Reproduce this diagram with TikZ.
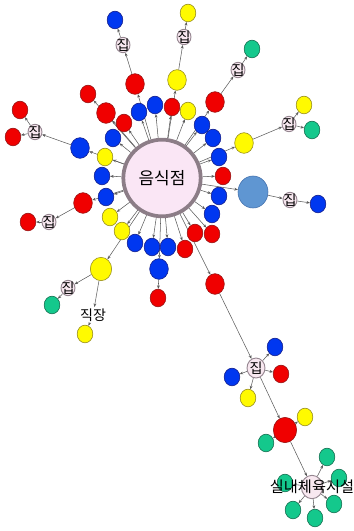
\documentclass[tikz,border=0pt]{standalone}
\usepackage{fontspec}
\setmainfont{Noto Sans CJK KR}
\usetikzlibrary{shapes.geometric, arrows.meta, backgrounds}

\definecolor{ndred}{RGB}{240,0,0}
\definecolor{ndredd}{RGB}{150,20,20}
\definecolor{ndblue}{RGB}{0,55,240}
\definecolor{ndblued}{RGB}{20,30,140}
\definecolor{ndyel}{RGB}{255,250,0}
\definecolor{ndyeld}{RGB}{150,140,30}
\definecolor{ndgrn}{RGB}{20,200,140}
\definecolor{ndgrnd}{RGB}{20,110,80}
\definecolor{ndsky}{RGB}{95,150,210}
\definecolor{ndskyd}{RGB}{70,115,175}
\definecolor{plpink}{RGB}{248,232,240}
\definecolor{plgray}{RGB}{150,135,145}
\definecolor{hbpink}{RGB}{250,230,245}
\definecolor{hbgray}{RGB}{140,125,135}
\definecolor{edgray}{RGB}{90,90,90}

\begin{document}
\begin{tikzpicture}[x=0.3mm, y=-0.3mm,
		every label/.style={font=\fontsize{12}{12}\selectfont, inner sep=0pt, text=black}]
		\tikzset{nd/.style={ellipse, draw, line width=0.5pt, minimum width=4.7mm, minimum height=5.3mm, inner sep=0pt}};
		\tikzset{lg/.style={minimum width=5.6mm, minimum height=6.2mm}};
		\tikzset{rd/.style={nd, fill=ndred, draw=ndredd}};
		\tikzset{bl/.style={nd, fill=ndblue, draw=ndblued}};
		\tikzset{yl/.style={nd, fill=ndyel, draw=ndyeld}};
		\tikzset{gn/.style={nd, fill=ndgrn, draw=ndgrnd}};
		\tikzset{pl/.style={ellipse, draw=plgray, fill=plpink, line width=0.8pt, minimum width=4.2mm, minimum height=4.6mm, inner sep=0pt}};
		\tikzset{ed/.style={draw=edgray, line width=0.45pt, -{Stealth[length=3pt, width=2.4pt]}}};

		\useasboundingbox (0,0) rectangle (353,531);

		\node[ellipse, draw=hbgray, fill=hbpink, line width=3.2pt, minimum width=19.8mm, minimum height=23mm, font=\fontsize{14.5}{14.5}\selectfont] (h) at (162,178) {음식점};

		% around the hub
		\node[rd] (r1) at (88,94) {};
		\node[rd, lg] (r2) at (135,84) {};
		\node[yl, lg] (y1) at (177,80) {};
		\node[rd, lg] (r3) at (215,102) {};
		\node[rd, lg] (r4) at (106,113) {};
		\node[bl] (b1) at (139,112) {};
		\node[bl] (b2) at (155,105) {};
		\node[rd] (r5) at (172,107) {};
		\node[yl] (y2) at (188,111) {};
		\node[rd] (r6) at (124,123) {};
		\node[bl] (b3) at (202,125) {};
		\node[bl] (b4) at (113,138) {};
		\node[bl] (b5) at (213,138) {};
		\node[yl, lg] (y3) at (244,143) {};
		\node[bl, lg] (b6) at (80,148) {};
		\node[yl] (y4) at (105,157) {};
		\node[bl] (b7) at (219,157) {};
		\node[bl] (b8) at (102,176) {};
		\node[rd] (r7) at (223,176) {};
		\node[ellipse, draw=ndskyd, fill=ndsky, line width=0.5pt, minimum width=9mm, minimum height=9.6mm] (bb) at (253,192) {};
		\node[bl] (b9) at (106,197) {};
		\node[bl] (b10) at (219,196) {};
		\node[rd, lg] (r8) at (83,203) {};
		\node[yl] (y5) at (110,217) {};
		\node[bl] (b11) at (212,214) {};
		\node[yl] (y6) at (122,231) {};
		\node[rd] (r9) at (195,233) {};
		\node[rd] (r10) at (212,234) {};
		\node[bl] (b12) at (135,243) {};
		\node[bl] (b13) at (152,247) {};
		\node[bl] (b14) at (168,247) {};
		\node[rd] (r11) at (185,249) {};
		\node[bl, lg] (b15) at (159,269) {};
		\node[yl, minimum width=6.4mm, minimum height=7mm] (y7) at (101,269) {};
		\node[rd, lg] (r13) at (215,284) {};

		% further out
		\node[pl, label=center:집] (j1) at (123,45) {};
		\node[bl] (b16) at (115,20) {};
		\node[pl, label=center:집] (j2) at (184,37) {};
		\node[yl] (y8) at (188,13) {};
		\node[pl, label=center:집] (j3) at (238,70) {};
		\node[gn] (g1) at (252,49) {};
		\node[pl, label=center:집] (j4) at (289,124) {};
		\node[yl] (y9) at (304,105) {};
		\node[gn] (g2) at (312,130) {};
		\node[pl, label=center:집] (j5) at (290,200) {};
		\node[bl] (b17) at (318,204) {};
		\node[pl, label=center:집] (j6) at (35,132) {};
		\node[rd] (r14) at (20,110) {};
		\node[rd] (r15) at (13,137) {};
		\node[pl, label=center:집] (j7) at (49,222) {};
		\node[rd] (r16) at (28,222) {};
		\node[pl, label=center:집] (j8) at (68,288) {};
		\node[gn] (g3) at (52,305) {};
		\node[pl, draw=none, fill=none, label=center:직장] (jc) at (93,315) {};
		\node[yl] (y10) at (85,334) {};
		\node[rd] (r12) at (158,298) {};

		\node[pl, minimum width=5.4mm, minimum height=6mm, label=center:집] (j9) at (256,368) {};
		\node[bl] (b18) at (275,347) {};
		\node[bl] (b19) at (232,377) {};
		\node[rd] (r17) at (281,374) {};
		\node[yl] (y11) at (248,398) {};
		\node[rd, minimum width=7mm, minimum height=7.6mm] (r18) at (285,430) {};
		\node[yl] (y12) at (305,417) {};
		\node[gn] (g4) at (266,443) {};
		\node[gn] (g5) at (285,483) {};
		\node[gn] (g6) at (327,457) {};
		\node[gn] (g7) at (339,478) {};
		\node[gn] (g8) at (334,504) {};
		\node[gn] (g9) at (315,518) {};
		\node[gn] (g10) at (293,510) {};
		\node[pl, minimum width=6.4mm, minimum height=7mm, label={[font=\fontsize{13}{13}\selectfont]center:실내체육시설}] (sp) at (312,487) {};

		\begin{scope}[on background layer]
		\draw[ed] (h) to (r1);
		\draw[ed] (h) to (r2);
		\draw[ed] (h) to (y1);
		\draw[ed] (h) to (r3);
		\draw[ed] (h) to (r4);
		\draw[ed] (h) to (b1);
		\draw[ed] (h) to (b2);
		\draw[ed] (h) to (r5);
		\draw[ed] (h) to (y2);
		\draw[ed] (h) to (r6);
		\draw[ed] (h) to (b3);
		\draw[ed] (h) to (b4);
		\draw[ed] (h) to (b5);
		\draw[ed] (h) to (y3);
		\draw[ed] (h) to (b6);
		\draw[ed] (h) to (y4);
		\draw[ed] (h) to (b7);
		\draw[ed] (h) to (b8);
		\draw[ed] (h) to (r7);
		\draw[ed] (h) to (bb);
		\draw[ed] (h) to (b9);
		\draw[ed] (h) to (b10);
		\draw[ed] (h) to (r8);
		\draw[ed] (h) to (y5);
		\draw[ed] (h) to (b11);
		\draw[ed] (h) to (y6);
		\draw[ed] (h) to (r9);
		\draw[ed] (h) to (r10);
		\draw[ed] (h) to (b12);
		\draw[ed] (h) to (b13);
		\draw[ed] (h) to (b14);
		\draw[ed] (h) to (r11);
		\draw[ed] (h) to (b15);
		\draw[ed] (h) to (y7);
		\draw[ed] (h) to (r13);

		\draw[ed] (r2) to (j1);
		\draw[ed] (j1) to (b16);
		\draw[ed] (y1) to (j2);
		\draw[ed] (j2) to (y8);
		\draw[ed] (r3) to (j3);
		\draw[ed] (j3) to (g1);
		\draw[ed] (y3) to (j4);
		\draw[ed] (j4) to (y9);
		\draw[ed] (j4) to (g2);
		\draw[ed] (bb) to (j5);
		\draw[ed] (j5) to (b17);
		\draw[ed] (b6) to (j6);
		\draw[ed] (j6) to (r14);
		\draw[ed] (j6) to (r15);
		\draw[ed] (r8) to (j7);
		\draw[ed] (j7) to (r16);
		\draw[ed] (y7) to (j8);
		\draw[ed] (j8) to (g3);
		\draw[ed] (y7) to (jc);
		\draw[ed] (jc) to (y10);
		\draw[ed] (b15) to (r12);

		\draw[ed] (r13) to (j9);
		\draw[ed] (j9) to (b18);
		\draw[ed] (j9) to (b19);
		\draw[ed] (j9) to (r17);
		\draw[ed] (j9) to (y11);
		\draw[ed] (j9) to (r18);
		\draw[ed] (r18) to (y12);
		\draw[ed] (r18) to (g4);
		\draw[ed] (r18) to (sp);
		\draw[ed] (sp) to (g5);
		\draw[ed] (sp) to (g6);
		\draw[ed] (sp) to (g7);
		\draw[ed] (sp) to (g8);
		\draw[ed] (sp) to (g9);
		\draw[ed] (sp) to (g10);
		\end{scope}
	\end{tikzpicture}
\end{document}
